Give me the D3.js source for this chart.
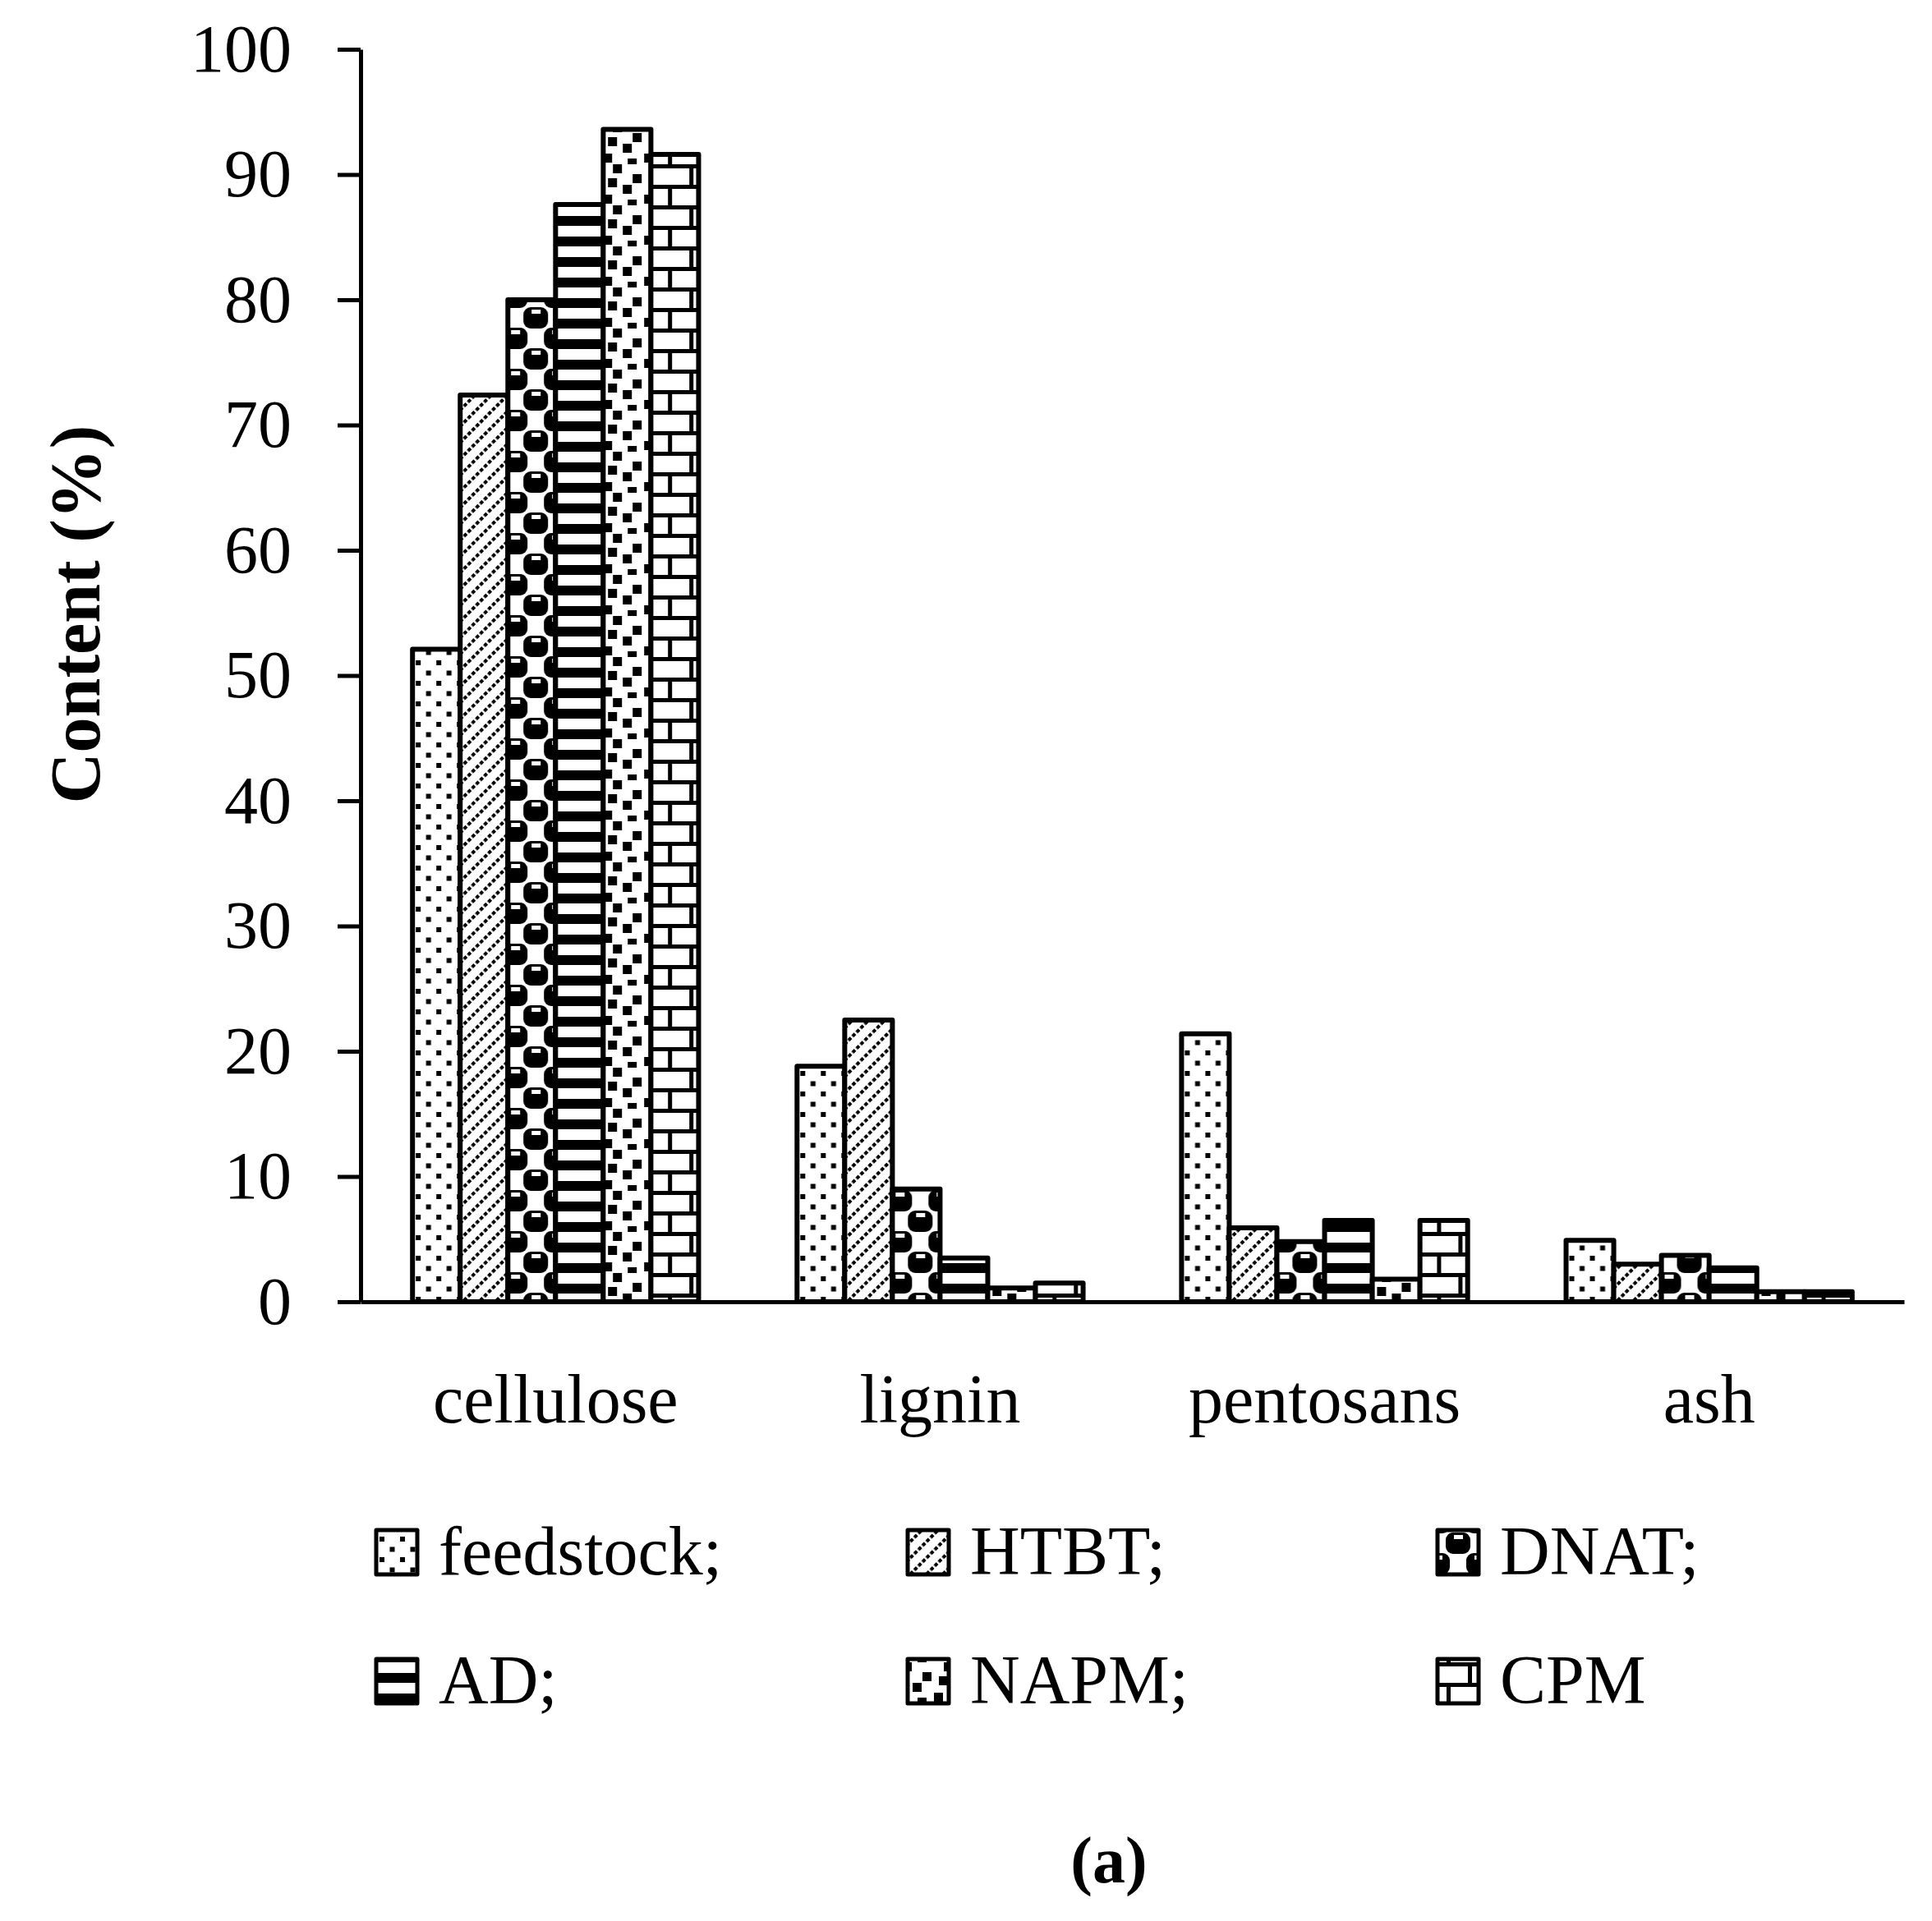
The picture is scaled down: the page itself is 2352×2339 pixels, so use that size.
<!DOCTYPE html>
<html>
<head>
<meta charset="utf-8">
<title>Content chart</title>
<script src="https://cdn.jsdelivr.net/npm/d3@7/dist/d3.min.js"></script>
<style>
  body { margin: 0; background: #fff; }
  text { font-family: "Liberation Serif", "DejaVu Serif", serif; fill: #000; }
</style>
</head>
<body>
<script>
// data
var categories = ['cellulose', 'lignin', 'pentosans', 'ash'];
var series = ['feedstock', 'HTBT', 'DNAT', 'AD', 'NAPM', 'CPM'];
var legendLabels = ['feedstock;', 'HTBT;', 'DNAT;', 'AD;', 'NAPM;', 'CPM'];
var feedstock = [52.1, 18.8, 21.4, 4.9];
var HTBT = [72.4, 22.5, 5.9, 3.0];
var DNAT = [80.0, 9.0, 4.8, 3.7];
var AD = [87.6, 3.5, 6.5, 2.7];
var NAPM = [93.6, 1.1, 1.8, 0.8];
var CPM = [91.6, 1.5, 6.5, 0.8];
var yTicks = [0, 10, 20, 30, 40, 50, 60, 70, 80, 90, 100];

var values = { feedstock: feedstock, HTBT: HTBT, DNAT: DNAT, AD: AD, NAPM: NAPM, CPM: CPM };

var width = 2352, height = 2339;
var svg = d3.select('body').append('svg')
    .attr('width', width)
    .attr('height', height);

svg.append('rect').attr('width', width).attr('height', height).attr('fill', '#fff');

/* patterns */
var defs = svg.append('defs');

function pattern(id, w, h) {
    var p = defs.append('pattern')
        .attr('id', id)
        .attr('patternUnits', 'userSpaceOnUse')
        .attr('width', w)
        .attr('height', h);
    p.append('rect').attr('width', w).attr('height', h).attr('fill', '#fff');
    return p;
}

// feedstock: dots
var pd = pattern('pat-feedstock', 25, 25);
[[4, 4], [16.5, 16.5]].forEach(function(c) {
    pd.append('rect').attr('x', c[0]).attr('y', c[1]).attr('width', 6).attr('height', 6).attr('fill', '#000');
});

// HTBT: dashed diagonal
var ph = pattern('pat-HTBT', 14, 21).attr('patternTransform', 'rotate(45)');
ph.append('line').attr('x1', 2).attr('y1', 0).attr('x2', 2).attr('y2', 21)
    .attr('stroke', '#000').attr('stroke-width', 4).attr('stroke-dasharray', '4.5 2.5');

// DNAT: checker of blobs
var pn = pattern('pat-DNAT', 50, 50);
[[25, 12], [0, 37], [50, 37], [0, -13], [50, -13], [25, 62]].forEach(function(c) {
    pn.append('rect').attr('x', c[0] - 15).attr('y', c[1] - 13).attr('width', 30).attr('height', 26)
        .attr('rx', 9).attr('fill', '#000');
    pn.append('rect').attr('x', c[0] - 5).attr('y', c[1] - 10).attr('width', 11).attr('height', 5)
        .attr('fill', '#fff');
});

// AD: horizontal stripes
var pa = pattern('pat-AD', 25, 25);
pa.append('rect').attr('x', 0).attr('y', 13).attr('width', 25).attr('height', 12).attr('fill', '#000');

// NAPM: large confetti
var pm = pattern('pat-NAPM', 50, 50);
[[44, 0], [-6, 0], [18, 12], [38, 17], [6, 25], [32, 37], [12, 43], [44, 50], [-6, 50]].forEach(function(c) {
    pm.append('rect').attr('x', c[0]).attr('y', c[1]).attr('width', 11).attr('height', 11).attr('fill', '#000');
});

// CPM: bricks
var pc = pattern('pat-CPM', 50, 50);
pc.append('rect').attr('x', 0).attr('y', 0).attr('width', 50).attr('height', 5).attr('fill', '#000');
pc.append('rect').attr('x', 0).attr('y', 25).attr('width', 50).attr('height', 5).attr('fill', '#000');
pc.append('rect').attr('x', 37).attr('y', 5).attr('width', 5).attr('height', 20).attr('fill', '#000');
pc.append('rect').attr('x', 11).attr('y', 30).attr('width', 5).attr('height', 20).attr('fill', '#000');

/* scales */
var x0 = d3.scaleBand()
    .domain(categories)
    .range([439, 2318])
    .paddingInner(0.256)
    .paddingOuter(0.135);

var x1 = d3.scaleBand()
    .domain(series)
    .range([0, x0.bandwidth()]);

var y = d3.scaleLinear()
    .domain([0, 100])
    .range([1585, 60]);

/* bars */
var groups = svg.append('g').selectAll('g')
    .data(categories)
    .enter().append('g')
    .attr('transform', function(d) { return 'translate(' + x0(d) + ',0)'; });

groups.selectAll('rect')
    .data(function(d, i) {
        return series.map(function(s) { return { key: s, value: values[s][i] }; });
    })
    .enter().append('rect')
    .attr('x', function(d) { return x1(d.key); })
    .attr('y', function(d) { return y(d.value); })
    .attr('width', x1.bandwidth())
    .attr('height', function(d) { return y(0) - y(d.value); })
    .attr('fill', function(d) { return 'url(#pat-' + d.key + ')'; })
    .attr('stroke', '#000')
    .attr('stroke-width', 6)
    .attr('stroke-linejoin', 'round');

/* axes */
var yAxis = svg.append('g')
    .attr('transform', 'translate(439,0)')
    .call(d3.axisLeft(y).tickValues(yTicks).tickSize(28).tickSizeOuter(0).tickPadding(56));
yAxis.selectAll('path, line').attr('stroke', '#000').attr('stroke-width', 5);
yAxis.selectAll('text').attr('font-size', 82).attr('font-family', '"Liberation Serif", serif');

var xAxis = svg.append('g')
    .attr('transform', 'translate(0,' + y(0) + ')')
    .call(d3.axisBottom(x0).tickSize(0).tickSizeOuter(0).tickPadding(0));
xAxis.select('.domain').attr('stroke', '#000').attr('stroke-width', 5);
xAxis.selectAll('text')
    .attr('y', 1732 - y(0))
    .attr('dy', 0)
    .attr('font-size', 84)
    .attr('font-family', '"Liberation Serif", serif');

/* axis title */
svg.append('text')
    .attr('transform', 'translate(121,748) rotate(-90)')
    .attr('text-anchor', 'middle')
    .attr('font-size', 86)
    .attr('font-weight', 'bold')
    .text('Content (%)');

/* legend */
var legendCols = [458, 1105, 1750];
var legendRows = [1917, 2074];
var legend = svg.append('g').selectAll('g')
    .data(series)
    .enter().append('g')
    .attr('transform', function(d, i) {
        return 'translate(' + legendCols[i % 3] + ',' + legendRows[Math.floor(i / 3)] + ')';
    });

legend.append('rect')
    .attr('x', 0)
    .attr('y', -54)
    .attr('width', 50)
    .attr('height', 54)
    .attr('fill', function(d) { return 'url(#pat-' + d + ')'; })
    .attr('stroke', '#000')
    .attr('stroke-width', 5)
    .attr('stroke-linejoin', 'round');

legend.append('text')
    .attr('x', 76)
    .attr('y', 0)
    .attr('font-size', 84)
    .text(function(d, i) { return legendLabels[i]; });

/* panel label */
svg.append('text')
    .attr('x', 1350)
    .attr('y', 2292)
    .attr('text-anchor', 'middle')
    .attr('font-size', 80)
    .attr('font-weight', 'bold')
    .text('(a)');
</script>
</body>
</html>
